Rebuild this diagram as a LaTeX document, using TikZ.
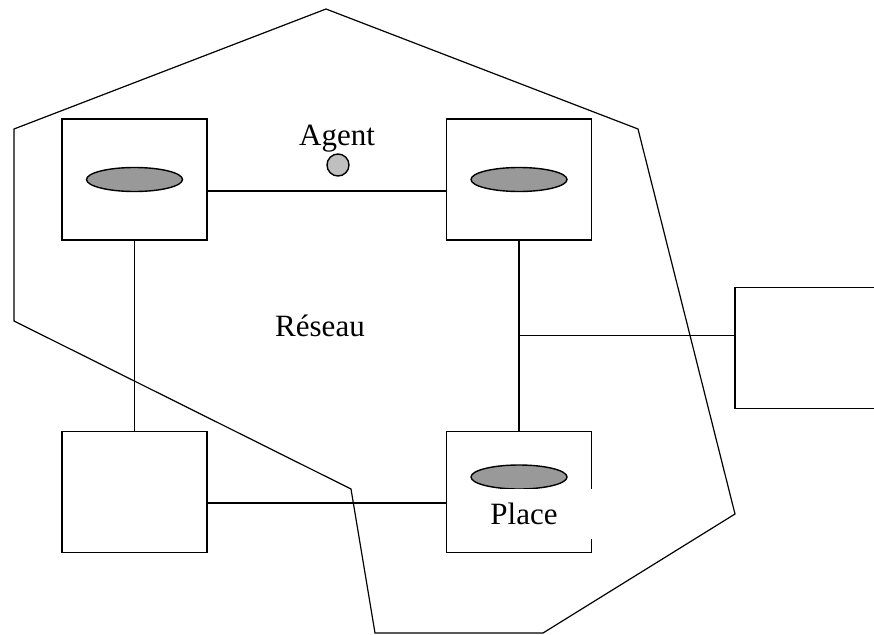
\documentclass[tikz,border=0pt]{standalone}
\usepackage{fontspec}
\setmainfont{Liberation Serif}
\usetikzlibrary{shapes.geometric,calc}

\tikzset{
  site/.style={draw, minimum width=145pt, minimum height=121pt, inner sep=0pt},
  place/.style={draw, ellipse, fill=black!40, minimum width=96pt, minimum height=24pt, inner sep=0pt},
  agent/.style={draw, circle, fill=black!25, minimum size=22pt, inner sep=0pt},
}

\begin{document}
\begin{tikzpicture}[x=1pt, y=-1pt, line width=1.4pt, font=\fontsize{31}{36}\selectfont]
    \useasboundingbox (0,0) rectangle (874,634);
    \clip (0,0) rectangle (874,634);

    % the four sites and the remote host
    \node[site] (tl) at (134.5,179.5) {};
    \node[site] (tr) at (519,179.5) {};
    \node[site] (bl) at (134.5,492) {};
    \node[site] (br) at (519,492) {};
    \node[site] (host) at (807.5,348) {};

    \node[place] (ptl) at (tl) {};
    \node[place] (ptr) at (tr) {};
    \node[place] (pbr) at (519,477) {};
    \node[fill=white, inner sep=0pt, minimum width=120pt, minimum height=50pt,
          text height=21pt, text depth=0pt] (lplace) at (534,514) {Place\hspace*{20pt}};

    \node[agent] (ag) at (338,165) {};
    \node[anchor=base] (lagent) at (337,145) {Agent};
    \node[anchor=base] (lnet) at (320,336) {Réseau};

    % links
    \draw ([yshift=-11.5pt]tl.east) -- ([yshift=-11.5pt]tr.west);
    \draw ([yshift=-11pt]bl.east) -- ([yshift=-11pt]br.west);
    \draw (tl) -- (bl);
    \draw (tr.south) -- (br.north);
    \coordinate (tap) at ($(tr.south)!0.5!(br.north)$);
    \draw (tap) -- (tap -| host.west);

    % network boundary
    \draw[line width=1.2pt, line join=miter] (14,129) -- (326,9) -- (638,129) -- (735,514) -- (543,633)
        -- (375,633) -- (351,489) -- (14,321) -- cycle;
\end{tikzpicture}
\end{document}
